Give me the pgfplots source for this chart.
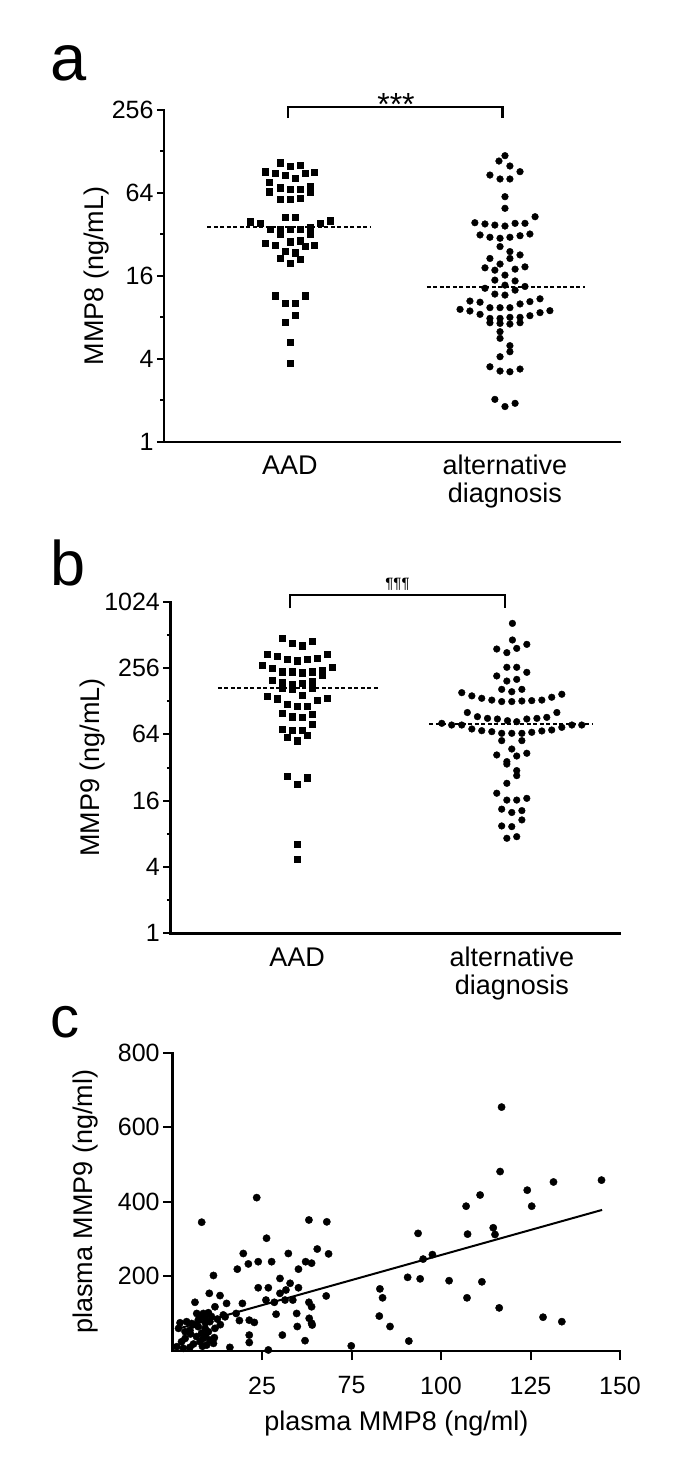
\documentclass[border=0pt]{standalone}
\usepackage{fontspec}
\setmainfont{Liberation Sans}
\usepackage{pgfplots}
\pgfplotsset{compat=1.18}

\newcommand{\fs}[1]{\fontsize{#1}{#1}\selectfont}
\newcommand{\fsl}{\fontsize{27}{28}\selectfont}
\newcommand{\up}{\rule{0pt}{20pt}}

\begin{document}
\begin{tikzpicture}
\useasboundingbox (0pt,0pt) rectangle (685pt,-1476pt);

% ---------------- a
\node[anchor=base west, inner sep=0pt, font=\fs{65}] at (50pt,-80.7pt) {a};
\begin{axis}[
  scale only axis, clip=false,
  at={(164pt,-441.7pt)}, anchor=south west,
  width=456pt, height=331.7pt,
  axis x line*=bottom, axis y line*=left,
  axis line style={line width=2.4pt, line cap=rect},
  tick align=outside,
  tick style={line width=2pt, black},
  major tick length=7pt,
  yticklabel style={font=\fs{25}},
  ymode=log, log basis y=2,
  xmin=0.414, xmax=2.535,
  ymin=1, ymax=256,
  xtick={1,2}, xticklabels={\up AAD,{\up alternative\\diagnosis}},
  xtick style={draw=none},
  xticklabel style={align=center, anchor=north, font=\fsl, inner sep=0pt, yshift=-6pt},
  ytick={1,4,16,64,256}, yticklabels={1,4,16,64,256},
  extra y ticks={2,8,32,128}, extra y tick labels={},
  extra y tick style={major tick length=3.5pt},
  ylabel={MMP8 (ng/mL)},
  ylabel style={font=\fs{27}, at={(axis description cs:-0.147,0.5)}, anchor=center},
]
\addplot[only marks, mark=square*, mark size=3.1pt, black] coordinates {
(0.953,106.1) (1.000,100.4) (1.047,102.1) (0.884,91.3) (0.930,88.8) (0.977,86.3)
(1.070,88.8) (1.113,90.3) (1.023,81.7) (0.904,76.4) (0.953,69.9) (1.000,68.0)
(1.047,68.0) (1.093,71.0) (0.904,65.4) (1.093,65.4) (0.953,57.5) (1.000,57.5)
(1.047,58.5) (0.977,42.5) (1.023,42.5) (0.814,39.6) (0.860,38.5) (1.140,38.5)
(1.186,40.2) (0.907,34.8) (0.953,34.8) (1.000,34.8) (1.047,34.8) (1.093,36.0)
(0.953,32.2) (1.093,32.2) (0.884,27.6) (0.930,26.8) (1.000,28.3) (1.047,28.8)
(1.070,26.3) (1.113,26.8) (0.977,24.2) (1.023,23.6) (0.953,21.4) (1.047,21.1)
(1.000,19.7) (0.930,11.5) (1.070,11.5) (0.977,10.1) (1.023,10.1) (1.023,8.3)
(0.977,7.36) (1.000,5.26) (1.000,3.71)
};
\addplot[only marks, mark=*, mark size=3.35pt, black] coordinates {
(2.000,119.3) (1.972,109.1) (2.023,100.4) (2.070,91.3) (1.930,86.3) (1.977,80.8)
(2.023,80.8) (2.000,60.1) (2.000,49.5) (1.860,38.9) (1.907,38.1) (1.953,37.4)
(2.000,36.8) (2.047,38.5) (2.093,38.5) (2.140,43.0) (1.884,31.7) (1.930,30.5)
(1.977,30.0) (2.023,30.5) (2.070,31.3) (2.116,32.2) (1.977,26.1) (2.023,24.0)
(2.070,22.7) (1.930,21.4) (2.023,21.4) (1.977,19.5) (1.907,18.3) (1.953,17.6)
(2.047,17.9) (2.093,18.6) (2.000,16.2) (1.953,14.9) (2.047,14.7) (2.000,13.7)
(1.907,13.0) (2.093,13.4) (1.953,11.8) (2.000,11.6) (2.047,12.6) (1.837,10.5)
(1.884,10.3) (2.116,10.4) (2.163,10.9) (1.791,9.14) (1.837,8.89) (1.930,9.40)
(1.977,9.40) (2.023,9.40) (2.070,10.0) (1.884,8.41) (1.930,7.86) (1.977,7.86)
(2.023,8.00) (2.070,8.00) (2.116,8.22) (2.163,8.65) (2.209,8.94) (1.930,7.31)
(1.977,7.23) (2.023,7.15) (2.070,7.31) (1.977,6.29) (1.977,5.63) (2.023,4.98)
(2.023,4.50) (1.977,4.14) (1.930,3.50) (1.977,3.26) (2.023,3.22) (2.070,3.37)
(1.953,2.03) (2.000,1.80) (2.047,1.90)
};
\addplot[black, line width=2.2pt, dash pattern=on 4pt off 2.5pt] coordinates {(0.616,36.0) (1.374,36.0)};
\addplot[black, line width=2.2pt, dash pattern=on 4pt off 2.5pt] coordinates {(1.637,13.2) (2.372,13.2)};
\end{axis}
\draw[line width=2.2pt] (288.3pt,-118pt) -- (288.3pt,-107pt) -- (502.4pt,-107pt) -- (502.4pt,-118pt);
\node[anchor=base, inner sep=0pt, font=\fs{32}] at (396pt,-115.5pt) {***};

% ---------------- b
\node[anchor=base west, inner sep=0pt, font=\fs{63}] at (50pt,-585pt) {b};
\begin{axis}[
  scale only axis, clip=false,
  at={(170.4pt,-933.3pt)}, anchor=south west,
  width=449.6pt, height=331.6pt,
  axis x line*=bottom, axis y line*=left,
  axis line style={line width=2.4pt, line cap=rect},
  tick align=outside,
  tick style={line width=2pt, black},
  major tick length=7pt,
  yticklabel style={font=\fs{25}},
  ymode=log, log basis y=2,
  xmin=0.410, xmax=2.504,
  ymin=1, ymax=1024,
  xtick={1,2}, xticklabels={\up AAD,{\up alternative\\diagnosis}},
  xtick style={draw=none},
  xticklabel style={align=center, anchor=north, font=\fsl, inner sep=0pt, yshift=-6pt},
  ytick={1,4,16,64,256,1024}, yticklabels={1,4,16,64,256,1024},
  extra y ticks={2,8,32,128,512}, extra y tick labels={},
  extra y tick style={major tick length=3.5pt},
  ylabel={MMP9 (ng/mL)},
  ylabel style={font=\fs{27}, at={(axis description cs:-0.1726,0.5)}, anchor=center},
]
\addplot[only marks, mark=square*, mark size=3.1pt, black] coordinates {
(0.930,476) (0.977,429) (1.023,409) (1.070,450) (0.860,343) (0.907,329)
(0.953,309) (1.000,299) (1.047,309) (1.093,313) (1.140,343) (0.837,273)
(0.883,254) (0.930,237) (0.977,237) (1.023,232) (1.070,237) (1.117,246)
(1.117,221) (1.163,260) (0.883,197) (0.930,189) (0.977,183) (1.023,186)
(1.070,193) (0.930,167.5) (0.977,164) (1.070,167.5) (0.860,141) (0.907,135)
(1.023,146) (1.093,131) (1.140,137) (0.953,121) (1.000,116) (1.047,116)
(0.930,99.3) (0.977,92.6) (1.023,91.3) (1.070,97.3) (1.070,78.9) (0.930,71.1)
(0.977,70.1) (1.023,70.1) (0.953,60.1) (1.000,56.1) (1.047,63.1) (0.953,26.8)
(1.000,22.5) (1.047,25.9) (1.000,6.43) (1.000,4.70)
};
\addplot[only marks, mark=*, mark size=3.35pt, black] coordinates {
(2.003,651) (2.003,460) (1.930,381) (1.977,353) (2.023,386) (2.070,420)
(1.977,260) (2.023,260) (2.070,234) (1.930,217) (1.977,195) (2.023,202)
(1.953,164) (2.000,156) (2.047,164) (1.767,153) (1.814,143) (1.860,136)
(1.907,131) (1.953,127) (2.000,127) (2.047,128.5) (2.093,129.5) (2.140,131)
(2.186,139) (2.233,148) (1.793,101) (1.840,92.6) (1.887,89.4) (1.933,88.2)
(1.980,85.2) (2.023,83.4) (2.070,88.2) (2.117,89.4) (2.163,91.3) (2.210,101)
(1.674,80.6) (1.720,77.8) (1.767,77.8) (1.814,71.6) (1.860,69.1) (1.907,67.7)
(1.953,65.4) (2.000,65.4) (2.047,65.4) (2.093,66.8) (2.140,68.7) (2.186,70.1)
(2.233,74.1) (2.280,77.8) (2.326,77.8) (1.953,56.1) (2.047,56.1) (2.000,47.1)
(1.930,41.6) (2.023,40.7) (2.070,43.1) (1.977,36.2) (1.977,34.4) (2.023,30.0)
(2.023,27.0) (1.977,23.0) (1.930,18.7) (1.977,16.2) (2.023,16.2) (2.070,16.8)
(1.953,13.4) (2.000,12.5) (2.047,13.0) (1.953,9.43) (2.000,9.30) (2.047,10.7)
(1.977,7.29) (2.023,7.54)
};
\addplot[black, line width=2.2pt, dash pattern=on 4pt off 2.5pt] coordinates {(0.631,167.5) (1.387,167.5)};
\addplot[black, line width=2.2pt, dash pattern=on 4pt off 2.5pt] coordinates {(1.616,79.5) (2.373,79.5)};
\end{axis}
\draw[line width=2.2pt] (289.6pt,-608.3pt) -- (289.6pt,-595pt) -- (504.6pt,-595pt) -- (504.6pt,-608.3pt);
\node[inner sep=0pt, font=\fs{15}] at (397.5pt,-583.8pt) {¶¶¶};

% ---------------- c
\node[anchor=base west, inner sep=0pt, font=\fs{58}] at (50pt,-1037pt) {c};
\begin{axis}[
  scale only axis, clip=false,
  at={(172.6pt,-1350.7pt)}, anchor=south west,
  width=447.4pt, height=298pt,
  axis x line*=bottom, axis y line*=left,
  axis line style={line width=2.4pt, line cap=rect},
  tick align=outside,
  tick style={line width=2pt, black},
  major tick length=9.5pt,
  ticklabel style={font=\fs{25}},
  xticklabel style={yshift=-13pt},
  xmin=0, xmax=150, ymin=0, ymax=800,
  xtick={30,60,90,120,150}, xticklabels={25,75,100,125,150},
  ytick={200,400,600,800}, yticklabels={200,400,600,800},
  xlabel={plasma MMP8 (ng/ml)},
  ylabel={plasma MMP9 (ng/ml)},
  xlabel style={font=\fs{27}, at={(axis description cs:0.5,-0.2023)}, anchor=north, inner sep=0pt},
  ylabel style={font=\fs{27}, at={(axis description cs:-0.1936,0.5)}, anchor=center},
]
\addplot[only marks, mark=*, mark size=3.65pt, black] coordinates {
(110.3,654) (109.8,481) (143.8,458) (127.7,453) (118.9,431) (103.1,418)
(98.4,388) (120.4,388) (107.5,330) (108.1,312) (98.9,313) (82.3,315)
(84.0,246) (87.1,258) (78.8,197) (83.0,193) (92.7,188) (103.7,185)
(98.7,142) (109.5,115) (124.2,90) (130.5,78) (69.5,166) (70.4,142)
(69.3,93) (72.9,65) (79.2,26) (59.9,13) (51.7,346) (52.3,260) (51.5,147)
(28.2,411) (9.75,345) (45.7,351) (31.5,302) (23.7,261) (25.4,233)
(28.7,239) (33.2,239) (38.8,261) (48.5,273) (44.6,239) (46.6,235)
(42.2,219) (21.7,219) (13.7,202) (36.0,194) (39.4,181) (42.2,169)
(28.7,169) (32.1,169) (36.0,154) (38.0,163) (37.7,136) (40.3,136)
(31.3,136) (34.1,130) (45.7,130) (46.6,118) (23.4,127) (12.3,154)
(15.9,148) (18.1,127) (14.2,118) (7.5,130) (21.3,100) (17.6,91)
(22.4,81) (25.7,82) (27.4,76) (34.7,98) (41.6,100) (45.8,87)
(46.6,74) (41.8,65) (46.8,69) (36.8,42) (25.7,42) (25.7,22)
(44.4,27) (19.2,9) (32.1,2)
(2.5,75) (4.7,78) (6.4,73) (8.6,82) (10.9,87) (12.5,78) (12.0,102)
(10.3,100) (17.0,96) (2.0,60) (4.2,51) (5.8,55) (8.6,64.5) (10.9,60)
(9.7,46.6) (12.0,51) (10.3,33) (12.5,28.7) (9.2,24) (4.2,33) (3.0,24)
(1.4,10.8) (3.6,6.3) (5.8,9) (11.4,15) (13.7,19.7) (14.2,60) (8.1,100)
(7.0,70) (9.0,88) (11.0,75) (13.0,92) (6.0,45) (8.0,38) (11.0,40)
(14.0,35) (7.0,18) (10.0,12) (15.0,85) (16.0,70)
};
\addplot[black, line width=2pt] coordinates {(2,59.5) (144,378)};
\end{axis}
\end{tikzpicture}
\end{document}
